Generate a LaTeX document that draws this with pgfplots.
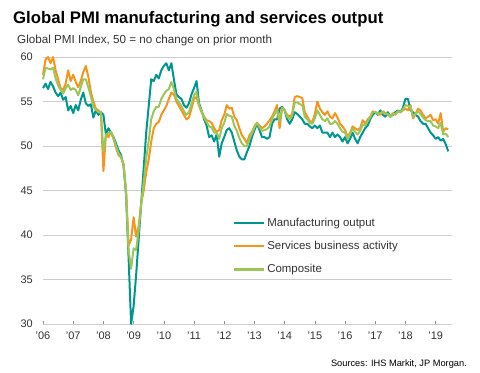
\documentclass[border=0pt]{standalone}
\usepackage{fontspec}
\setmainfont{Liberation Sans}
\usepackage{pgfplots}
\usepackage{pgfplotstable}
\pgfplotsset{compat=1.18}
\definecolor{teal1}{RGB}{0,150,143}
\definecolor{orange1}{RGB}{247,148,29}
\definecolor{green1}{RGB}{155,198,90}
\definecolor{grid1}{RGB}{205,205,205}
\definecolor{text1}{RGB}{51,51,51}

\pgfplotstableread{
M S C
56.5 58.0 57.5
57.0 59.7 58.8
56.4 60.0 58.7
57.2 59.3 58.6
56.7 60.0 58.8
56.0 58.5 57.6
55.6 57.5 56.8
56.0 56.5 56.3
55.2 56.3 55.9
55.5 57.0 56.5
54.0 58.5 56.9
54.5 57.3 56.3
53.7 58.0 56.5
54.6 57.2 56.3
54.0 56.6 55.7
55.2 57.3 56.6
56.0 58.3 57.5
54.8 59.0 57.5
54.5 57.8 56.6
54.7 56.1 55.6
53.2 55.0 54.4
54.0 54.2 54.1
53.5 54.0 53.8
53.8 53.8 53.8
53.5 47.2 49.4
51.3 51.3 51.3
52.0 51.0 51.4
51.5 51.6 51.6
51.0 50.8 50.9
50.3 49.8 50.0
49.5 49.0 49.2
49.0 48.7 48.8
47.8 48.0 47.9
44.5 45.0 44.8
37.5 38.8 38.3
30.0 39.5 36.2
32.0 42.0 38.5
35.5 39.8 38.3
39.5 41.0 40.5
43.5 43.5 43.5
47.5 45.0 45.9
51.5 47.0 48.6
54.5 48.5 50.6
57.5 50.5 53.0
57.3 52.0 53.9
58.0 52.5 54.4
57.6 52.7 54.4
58.5 53.5 55.3
59.0 54.0 55.8
59.3 54.5 56.2
58.5 55.3 56.4
59.3 56.0 57.2
57.5 55.8 56.4
55.8 55.0 55.3
55.5 54.5 54.9
55.3 54.0 54.5
54.6 53.5 53.9
54.3 53.0 53.5
54.8 53.2 53.8
55.8 54.2 54.8
56.5 55.3 55.7
57.3 55.5 56.1
54.8 54.5 54.6
54.0 53.8 53.9
53.0 53.3 53.2
52.3 52.9 52.7
51.0 52.8 52.2
51.2 52.6 52.1
50.5 52.0 51.5
51.3 51.6 51.5
48.8 51.8 50.8
50.3 52.9 52.0
51.0 53.5 52.6
51.8 54.6 53.6
52.0 54.2 53.4
51.5 54.3 53.3
50.5 53.3 52.3
49.5 52.9 51.7
48.8 52.0 50.9
48.5 51.2 50.3
48.5 50.8 50.0
49.3 50.3 50.0
50.0 51.2 50.8
51.0 51.6 51.4
51.8 52.2 52.1
52.5 52.6 52.6
51.8 52.3 52.1
51.0 52.0 51.7
51.0 52.2 51.8
50.8 52.5 51.9
51.0 52.9 52.2
52.5 53.3 53.0
53.0 53.9 53.6
53.0 54.6 54.0
54.2 52.0 52.8
54.4 54.3 54.3
54.0 54.0 54.0
53.0 53.5 53.3
52.5 53.3 53.0
53.0 53.6 53.4
53.8 55.5 54.9
53.6 55.6 54.9
53.3 55.5 54.7
53.0 55.4 54.6
52.5 53.8 53.3
52.5 53.3 53.0
52.2 52.8 52.6
52.0 52.7 52.5
52.3 53.6 53.1
52.0 55.0 54.0
52.3 54.2 53.5
51.5 53.8 53.0
51.5 53.5 52.8
51.5 53.9 53.1
51.0 53.3 52.5
51.5 53.1 52.5
51.0 53.7 52.8
51.3 53.2 52.5
51.0 52.5 52.0
50.5 52.2 51.6
51.0 51.8 51.5
50.3 51.0 50.8
50.8 51.5 51.3
51.5 52.2 52.0
50.8 52.0 51.6
50.3 51.8 51.3
51.0 52.0 51.7
51.5 52.9 52.4
52.0 52.5 52.3
52.3 53.0 52.8
53.0 53.3 53.2
53.5 53.9 53.8
53.8 53.8 53.8
53.5 53.7 53.6
54.0 53.5 53.7
53.5 53.9 53.8
53.3 53.7 53.6
53.8 53.5 53.6
53.3 53.3 53.3
53.5 53.7 53.6
53.8 53.5 53.6
54.0 53.9 53.9
53.8 53.8 53.8
54.3 54.0 54.1
55.3 54.2 54.6
55.3 54.0 54.5
54.0 54.6 54.4
53.8 53.1 53.3
53.5 53.6 53.6
53.3 54.2 53.9
52.8 54.0 53.6
52.5 53.5 53.2
52.5 53.1 52.9
52.0 53.3 52.8
51.5 53.5 52.8
51.2 52.9 52.3
50.8 53.0 52.2
51.0 52.5 52.0
50.6 53.7 52.6
50.8 51.6 51.3
50.2 52.0 51.4
49.4 51.9 51.0
}\pmi

\begin{document}
\begin{tikzpicture}[x=1bp,y=1bp]
\useasboundingbox (0,0) rectangle (480,372);
\node[anchor=base west, inner sep=0pt, font=\bfseries\fontsize{16.8}{19}\selectfont] at (13,349) {Global PMI manufacturing and services output};
\node[anchor=base west, inner sep=0pt, text=text1, font=\fontsize{11.7}{13}\selectfont] at (17,328.5) {Global PMI Index, 50 = no change on prior month};
\begin{axis}[
  at={(43bp,48bp)}, anchor=south west,
  scale only axis, width=409bp, height=267bp,
  xmin=0, xmax=162.5, ymin=30, ymax=60,
  ytick={30,35,...,60},
  ymajorgrids, grid style={grid1, line width=0.9bp},
  axis line style={draw=none},
  ytick style={draw=none},
  xtick={0,12,...,156},
  xticklabels={\textquoteright06,\textquoteright07,\textquoteright08,\textquoteright09,\textquoteright10,\textquoteright11,\textquoteright12,\textquoteright13,\textquoteright14,\textquoteright15,\textquoteright16,\textquoteright17,\textquoteright18,\textquoteright19},
  xtick pos=bottom, ytick pos=left,
  tick align=inside,
  major tick length=3bp,
  xtick style={grid1!70!black, line width=0.6bp},
  /pgf/number format/assume math mode=true,
  ticklabel style={font=\fontsize{11}{13}\selectfont, text=text1},
  yticklabel style={anchor=east, inner sep=0pt, xshift=-10bp},
  xticklabel style={anchor=north, inner sep=0pt, yshift=-8bp},
  legend style={at={(rel axis cs:0.4645,0.405)}, anchor=north west, draw=none, fill=none,
    font=\fontsize{11.5}{13}\selectfont, text=text1, row sep=9.5bp, inner sep=0pt,
    cells={anchor=west}},
  legend image code/.code={\draw[#1, line width=2.1bp] (0bp,0bp) -- (30bp,0bp);},
  every axis plot/.append style={line width=2.0bp, line join=round},
  clip=false,
]
\addplot[teal1, no markers] table[x expr=\coordindex, y=M] {\pmi};
\addlegendentry{Manufacturing output}
\addplot[orange1, no markers] table[x expr=\coordindex, y=S] {\pmi};
\addlegendentry{Services business activity}
\addplot[green1, no markers] table[x expr=\coordindex, y=C] {\pmi};
\addlegendentry{Composite}
\end{axis}
\node[anchor=base east, inner sep=0pt, text=black, font=\fontsize{9.3}{11}\selectfont] at (467,6) {Sources: IHS Markit, JP Morgan.};
\end{tikzpicture}
\end{document}
